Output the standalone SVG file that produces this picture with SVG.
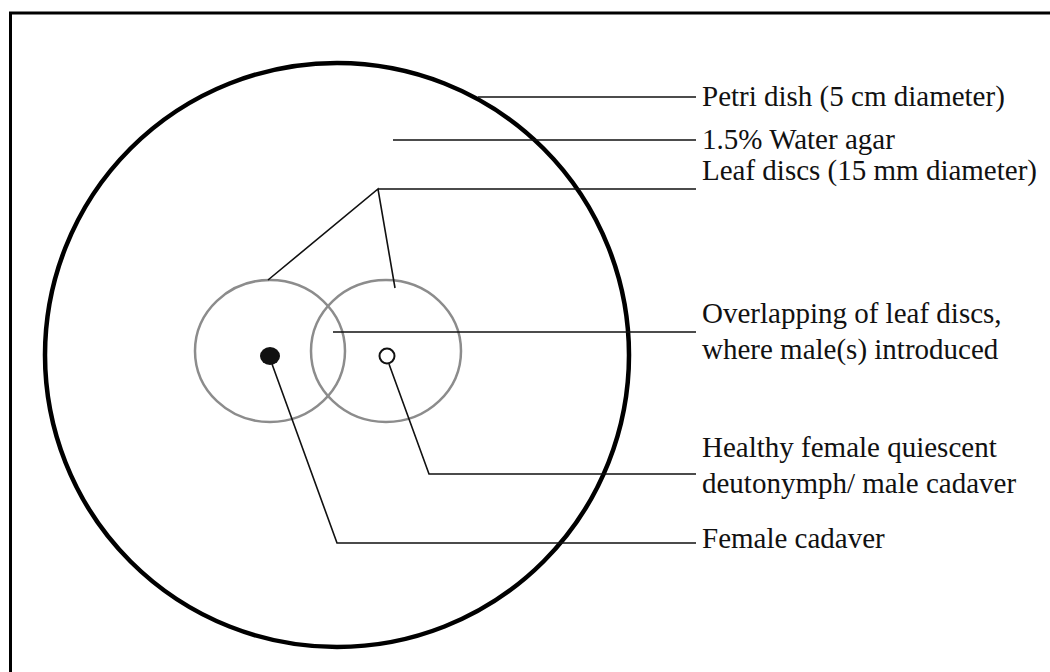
<svg xmlns="http://www.w3.org/2000/svg" width="1050" height="672" viewBox="0 0 1050 672">
<style>
.frame{fill:none;stroke:#000;stroke-width:3}
.dish{fill:none;stroke:#000;stroke-width:4.5}
.disc{fill:none;stroke:#8c8c8c;stroke-width:2.5}
.lead{fill:none;stroke:#111;stroke-width:1.6}
.lbl{font-family:"Liberation Serif","Times New Roman",serif;font-size:29px;fill:#111}
</style>
<rect x="0" y="0" width="1050" height="672" fill="#fff"/>
<rect class="frame" x="10.5" y="13" width="1100" height="720"/>
<g id="petri-dish"><ellipse class="dish" cx="337" cy="355" rx="292" ry="292"/></g>
<g id="leaf-disc-left"><ellipse class="disc" cx="270" cy="351" rx="75" ry="71"/></g>
<g id="leaf-disc-right"><ellipse class="disc" cx="386" cy="351" rx="75" ry="71"/></g>
<g id="female-cadaver"><ellipse cx="270" cy="356" rx="10" ry="9" fill="#111"/></g>
<g id="healthy-female"><circle cx="387" cy="356" r="7.5" fill="#fff" stroke="#111" stroke-width="2"/></g>
<g id="connectors">
<path class="lead" d="M478,97 H696"/>
<path class="lead" d="M393,140 H696"/>
<path class="lead" d="M268,280 L378,189 L395,288 M378,189 H696"/>
<path class="lead" d="M333,332 H696"/>
<path class="lead" d="M389,364 L429,474 H696"/>
<path class="lead" d="M272,364 L337,543 H696"/>
</g>
<g id="labels">
<text class="lbl" x="702" y="106">Petri dish (5 cm diameter)</text>
<text class="lbl" x="702" y="149">1.5% Water agar</text>
<text class="lbl" x="702" y="180">Leaf discs (15 mm diameter)</text>
<text class="lbl" x="702" y="323">Overlapping of leaf discs,</text>
<text class="lbl" x="702" y="359">where male(s) introduced</text>
<text class="lbl" x="702" y="457">Healthy female quiescent</text>
<text class="lbl" x="702" y="493">deutonymph/ male cadaver</text>
<text class="lbl" x="702" y="548">Female cadaver</text>
</g>
</svg>
